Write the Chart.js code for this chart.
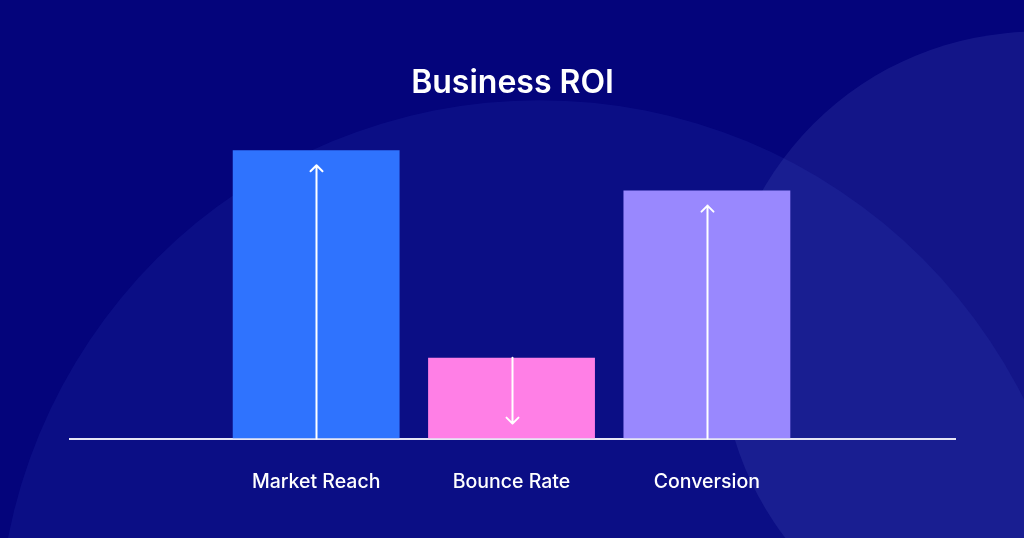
<!DOCTYPE html>
<html>
<head>
<meta charset="utf-8">
<script src="https://cdn.jsdelivr.net/npm/chart.js@4"></script>
<style>
    html, body { margin: 0; padding: 0; background: #05057b; }
    .wrap { width: 1024px; height: 538px; position: relative; }
</style>
</head>
<body>
<div class="wrap"><canvas id="roiChart"></canvas></div>
<script>
// Data chart Business ROI
const categories = ['Market Reach', 'Bounce Rate', 'Conversion'];
const values = [100, 28, 86];
const trends = ['up', 'down', 'up'];
const barColors = ['#2f73fe', '#ff7fe6', '#9988fe'];

// Latar belakang dengan dua lingkaran transparan
const backdropPlugin = {
    id: 'backdrop',
    beforeDraw(chart) {
        const ctx = chart.ctx;
        const w = chart.width;
        const h = chart.height;
        ctx.save();
        ctx.fillStyle = '#04047b';
        ctx.fillRect(0, 0, w, h);

        ctx.beginPath();
        ctx.arc(w * 0.527, h * 1.193, w * 0.529, 0, Math.PI * 2);
        ctx.fillStyle = 'rgba(55, 80, 200, 0.14)';
        ctx.fill();

        ctx.beginPath();
        ctx.arc(w * 1.012, h * 0.645, w * 0.308, 0, Math.PI * 2);
        ctx.fillStyle = 'rgba(110, 125, 220, 0.14)';
        ctx.fill();
        ctx.restore();
    }
};

// Panah putih di dalam tiap batang
const arrowPlugin = {
    id: 'arrows',
    afterDatasetsDraw(chart) {
        const ctx = chart.ctx;
        const meta = chart.getDatasetMeta(0);
        ctx.save();
        ctx.strokeStyle = '#ffffff';
        ctx.lineWidth = 2;
        ctx.lineCap = 'round';
        ctx.lineJoin = 'round';
        meta.data.forEach((bar, i) => {
            const x = Math.round(bar.x) + 0.5;
            const top = bar.y;
            const base = bar.base;
            const gap = 15;
            const head = 6;
            ctx.beginPath();
            if (trends[i] === 'up') {
                const tip = top + gap;
                ctx.moveTo(x, base);
                ctx.lineTo(x, tip);
                ctx.moveTo(x - head, tip + head);
                ctx.lineTo(x, tip);
                ctx.lineTo(x + head, tip + head);
            } else {
                const tip = base - gap;
                ctx.moveTo(x, top);
                ctx.lineTo(x, tip);
                ctx.moveTo(x - head, tip - head);
                ctx.lineTo(x, tip);
                ctx.lineTo(x + head, tip - head);
            }
            ctx.stroke();
        });
        ctx.restore();
    }
};

const ctx = document.getElementById('roiChart');
new Chart(ctx, {
    type: 'bar',
    data: {
        datasets: [{
            data: values.map((v, i) => ({ x: i + 1, y: v })),
            backgroundColor: barColors,
            borderWidth: 0,
            barPercentage: 0.854,
            categoryPercentage: 1
        }]
    },
    options: {
        responsive: true,
        maintainAspectRatio: false,
        animation: false,
        layout: {
            padding: { top: 64, left: 70, right: 69, bottom: 20 }
        },
        plugins: {
            legend: { display: false },
            tooltip: { enabled: false },
            title: {
                display: true,
                text: 'Business ROI',
                color: '#ffffff',
                font: { family: 'Inter', size: 32, weight: '600' },
                padding: { top: 0, bottom: 19 }
            }
        },
        scales: {
            x: {
                type: 'linear',
                offset: false,
                min: -0.26,
                max: 4.27,
                grid: { display: false },
                border: { display: true, color: '#e6e6f5', width: 2 },
                afterBuildTicks(scale) {
                    scale.ticks = categories.map((c, i) => ({ value: i + 1 }));
                },
                ticks: {
                    color: '#ffffff',
                    padding: 24,
                    autoSkip: false,
                    maxRotation: 0,
                    minRotation: 0,
                    font: { family: 'Inter', size: 19.5, weight: '500' },
                    callback: (v) => categories[v - 1]
                }
            },
            y: {
                display: false,
                min: 0,
                max: 110
            }
        }
    },
    plugins: [backdropPlugin, arrowPlugin]
});
</script>
</body>
</html>
